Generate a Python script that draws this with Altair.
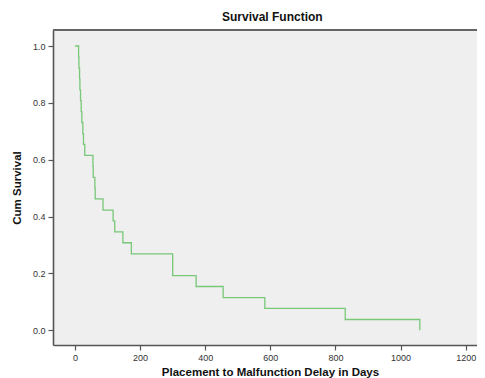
import altair as alt
import pandas as pd

days = [0, 11, 12, 14, 15, 17, 19, 21, 24, 26, 30, 55, 56, 61, 62, 86, 117, 122,
        147, 173, 300, 372, 455, 583, 830, 1059]
cum_survival = [1.0, 0.962, 0.923, 0.885, 0.846, 0.808, 0.769, 0.731, 0.692, 0.654,
                0.615, 0.577, 0.538, 0.500, 0.462, 0.423, 0.385, 0.346, 0.308,
                0.269, 0.192, 0.154, 0.115, 0.077, 0.038, 0.0]
x_ticks = [0, 200, 400, 600, 800, 1000, 1200]
y_ticks = [0.0, 0.2, 0.4, 0.6, 0.8, 1.0]

df = pd.DataFrame({"days": days, "surv": cum_survival})

W, H = 424, 315
FONT = "Liberation Sans"

line = alt.Chart(df).mark_line(
    interpolate="step-after", color="#78c878", strokeWidth=1.3
).encode(
    x=alt.X(
        "days:Q",
        scale=alt.Scale(domain=[-67.6, 1234.7], nice=False, zero=False),
        axis=alt.Axis(
            values=x_ticks, format="d", title="Placement to Malfunction Delay in Days",
            grid=False, tickSize=5, tickColor="#555", tickWidth=1.2,
            domainColor="#555", domainWidth=1.6,
            labelFontSize=9, labelColor="#333", labelPadding=3, labelFont=FONT,
            titleFont=FONT, titleFontSize=11.5, titleFontWeight="bold", titleColor="#111",
            titleBaseline="alphabetic", titleY=30.5, titleX=217,
        ),
    ),
    y=alt.Y(
        "surv:Q",
        scale=alt.Scale(domain=[-0.0517, 1.0563], nice=False, zero=False),
        axis=alt.Axis(
            values=y_ticks, format=".1f", title="Cum Survival",
            grid=False, tickSize=5, tickColor="#555", tickWidth=1.2,
            domainColor="#555", domainWidth=1.6,
            labelFontSize=9, labelColor="#333", labelPadding=3, labelFont=FONT,
            titleFont=FONT, titleFontSize=11.5, titleFontWeight="bold", titleColor="#111",
            titleAngle=270, titleAlign="center", titleBaseline="middle",
            titleX=-36, titleY=H / 2,
        ),
    ),
)

top_border = alt.Chart(df).mark_rule(color="#666", strokeWidth=1.6).encode(
    x=alt.value(0), x2=alt.value(W), y=alt.value(0)
)

chart = alt.layer(line, top_border).properties(
    width=W, height=H,
    padding={"left": 45, "top": 22, "right": 0, "bottom": 33},
    autosize=alt.AutoSizeParams(type="none"),
    background="white",
    title=alt.TitleParams(
        "Survival Function", font=FONT, fontSize=12, fontWeight="bold",
        color="#111", anchor="start", frame="group", offset=5, dx=169,
    ),
).configure_view(fill="#efefef", stroke="transparent")

chart.save("out.html", embed_options={"renderer": "svg", "actions": False})
